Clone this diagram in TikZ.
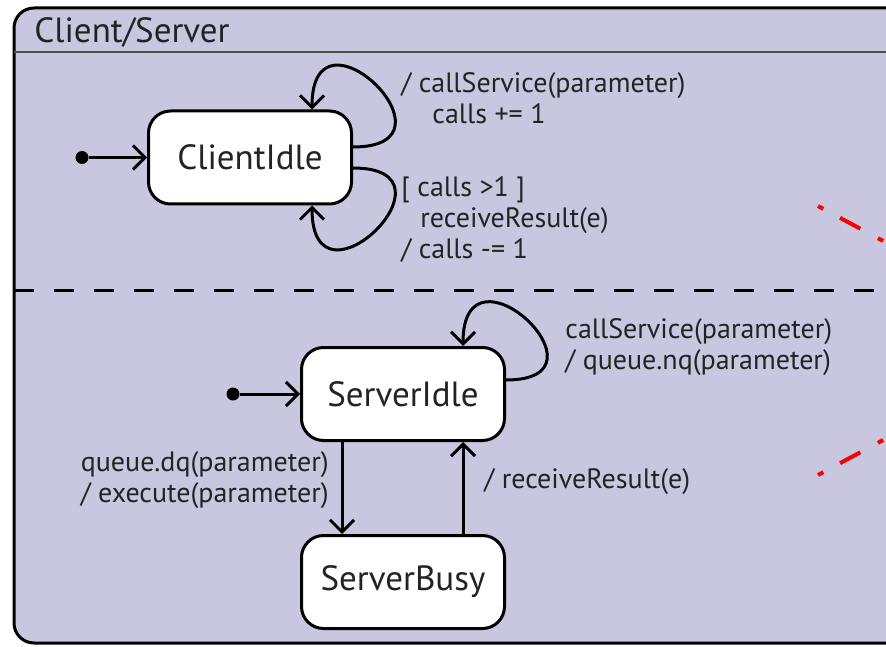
\documentclass[tikz,border=0pt]{standalone}
\usepackage{fontspec}
\setmainfont{PT Sans}
\usetikzlibrary{arrows.meta}
\definecolor{regionfill}{RGB}{201,199,224}
\definecolor{inkgray}{RGB}{35,35,35}
\definecolor{hintred}{RGB}{255,0,0}

\begin{document}
\begin{tikzpicture}[x=0.5pt,y=0.5pt,
    state/.style={draw=black, line width=1.5pt, fill=white, rounded corners=11pt,
        minimum width=101.5pt, minimum height=46.5pt, inner sep=0pt,
        font=\fontsize{17.5}{20}\selectfont, text=inkgray},
    trans/.style={line width=1.5pt, -{Straight Barb[length=6pt,width=12pt]}},
    lbl/.style={align=left, inner sep=0pt, font=\fontsize{14}{15.5}\selectfont, text=inkgray},
    initdot/.style={circle, fill=black, inner sep=0pt, minimum size=6.5pt}]

        \useasboundingbox (0,0) rectangle (886,-646);
        \clip (0,0) rectangle (886,-646);

        % region frame
        \draw[line width=1.5pt, fill=regionfill, rounded corners=10pt] (14,-8) rectangle (940,-643);
        \draw[line width=1pt, draw=black!70] (14,-52) -- (886,-52);
        \node[anchor=west, inner sep=0pt, font=\fontsize{17.5}{20}\selectfont, text=inkgray] (title) at (34,-32) {Client/Server};
        \draw[line width=1.5pt, dash pattern=on 10pt off 10pt] (14,-290) -- (886,-290);

        % red marks on the right
        \draw[hintred, line width=2pt, dash pattern=on 3pt off 9.5pt on 11.5pt off 10pt] (818,-206) -- (900,-250);
        \draw[hintred, line width=2pt, dash pattern=on 3pt off 9.5pt on 11.5pt off 10pt] (818,-475) -- (900,-431);

        % client
        \node[state] (client) at (250,-157.5) {ClientIdle};
        \node[initdot] (init1) at (82,-157.5) {};
        \draw[trans] (init1) -- (client);

        \draw[trans] ([yshift=5.25pt]client.east) to[out=0,in=90,looseness=5.3] ([xshift=31pt]client.north);
        \draw[trans] ([yshift=-5.25pt]client.east) to[out=0,in=-90,looseness=5.3] ([xshift=31pt]client.south);

        \node[lbl, anchor=west] (callsup) at (401,-98) {/ callService(parameter)\\\hspace*{15.5pt}calls += 1};
        \node[lbl, anchor=west] (callsdown) at (401,-219) {[ calls >1 ]\\\hspace*{9.5pt}receiveResult(e)\\/ calls -= 1};

        % server
        \node[state] (srvidle) at (403,-394) {ServerIdle};
        \node[state] (srvbusy) at (403,-582) {ServerBusy};
        \node[initdot] (init2) at (233,-394) {};
        \draw[trans] (init2) -- (srvidle);

        \draw[trans] ([yshift=7pt]srvidle.east) to[out=0,in=90,looseness=5.3] ([xshift=30pt]srvidle.north);
        \draw[trans] ([xshift=-30.5pt]srvidle.south) -- ([xshift=-30.5pt]srvbusy.north);
        \draw[trans] ([xshift=30pt]srvbusy.north) -- ([xshift=30pt]srvidle.south);

        \node[lbl, anchor=west] (enqueue) at (565,-347) {callService(parameter)\\/ queue.nq(parameter)};
        \node[lbl, anchor=east, align=right] (dequeue) at (329,-480) {queue.dq(parameter)\\/ execute(parameter)};
        \node[lbl, anchor=west] (result) at (484,-482) {/ receiveResult(e)};
\end{tikzpicture}
\end{document}
